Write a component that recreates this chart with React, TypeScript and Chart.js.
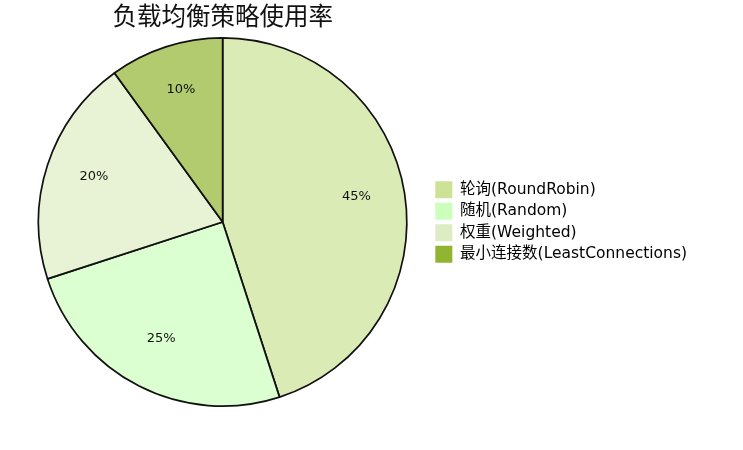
import React, { useEffect, useRef } from "react";
import { Chart, registerables } from "chart.js";

Chart.register(...registerables);

const categories = ["轮询(RoundRobin)", "随机(Random)", "权重(Weighted)", "最小连接数(LeastConnections)"];
const values = [45, 25, 20, 10];
const legendColors = ["#cce297", "#ccffbc", "#deecc3", "#91b530"];
const sliceColors = ["rgba(204,226,151,0.7)", "rgba(204,255,188,0.7)", "rgba(222,236,195,0.7)", "rgba(145,181,48,0.7)"];
const titleText = "负载均衡策略使用率";

const FONT = '"DejaVu Sans", "Noto Sans CJK SC", sans-serif';

const labelPlugin = {
  id: "pctLabels",
  afterDatasetsDraw(chart: any) {
    const ctx = chart.ctx;
    const meta = chart.getDatasetMeta(0);
    const data = chart.data.datasets[0].data as number[];
    const total = data.reduce((a, b) => a + b, 0);
    ctx.save();
    ctx.font = `13px ${FONT}`;
    ctx.fillStyle = "#111";
    ctx.textAlign = "center";
    ctx.textBaseline = "middle";
    meta.data.forEach((arc: any, i: number) => {
      const { x, y, startAngle, endAngle, outerRadius } = arc.getProps(["x", "y", "startAngle", "endAngle", "outerRadius"], true);
      const mid = (startAngle + endAngle) / 2;
      const r = outerRadius * 0.735;
      const pct = Math.round((data[i] / total) * 100);
      ctx.fillText(pct + "%", x + Math.cos(mid) * r, y + Math.sin(mid) * r - 4);
    });
    // title centred over the pie area
    const ca = chart.chartArea;
    ctx.font = `24.5px ${FONT}`;
    ctx.textBaseline = "middle";
    ctx.fillText(titleText, (ca.left + ca.right) / 2, 19);
    ctx.restore();
  },
};

export default function App() {
  const ref = useRef<HTMLCanvasElement>(null);
  useEffect(() => {
    if (!ref.current) return;
    const chart = new Chart(ref.current, {
      type: "pie",
      data: {
        labels: categories,
        datasets: [
          {
            data: values,
            backgroundColor: sliceColors,
            borderColor: "#111",
            borderWidth: 1.7,
          },
        ],
      },
      options: {
        animation: false,
        responsive: true,
        maintainAspectRatio: false,
        layout: { padding: { left: 14.5, right: 46, top: 37, bottom: 43 } },
        plugins: {
          title: { display: false },
          legend: {
            position: "right",
            align: "center",
            labels: {
              boxWidth: 17,
              boxHeight: 17,
              padding: 4.5,
              color: "#111",
              font: { family: FONT, size: 15.5 },
              generateLabels: () =>
                categories.map((t, i) => ({
                  text: t,
                  fillStyle: legendColors[i],
                  strokeStyle: legendColors[i],
                  lineWidth: 0,
                  hidden: false,
                  index: i,
                })),
            },
          },
          tooltip: { enabled: false },
        },
      },
      plugins: [labelPlugin],
    });
    return () => chart.destroy();
  }, []);
  return (
    <div style={{ position: "fixed", left: 0, top: 0, width: 743, height: 450, background: "#fff" }}>
      <canvas ref={ref} />
    </div>
  );
}
